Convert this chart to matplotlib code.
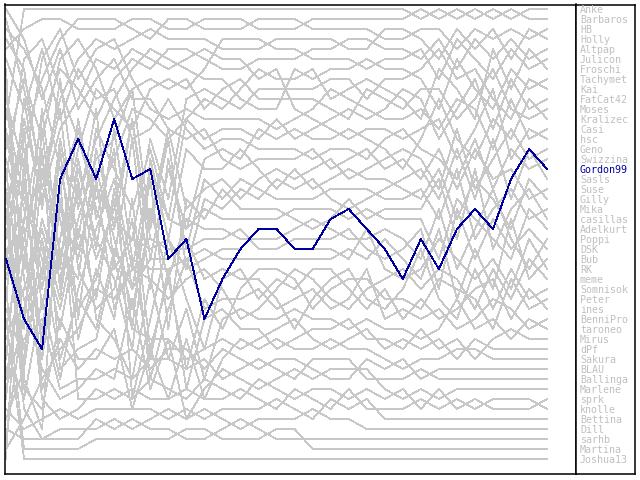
import matplotlib
matplotlib.use('Agg')
import matplotlib.pyplot as plt

# players in final table order (rank 1 first)
players = ['Anke', 'Barbaros', 'HB', 'Holly', 'Altpap', 'Julicon', 'Froschi',
           'Tachymet', 'Kai', 'FatCat42', 'Moses', 'Kralizec', 'Casi', 'hsc',
           'Geno', 'Swizzina', 'Gordon99', 'Sasls', 'Suse', 'Gilly', 'Mika',
           'casillas', 'Adelkurt', 'Poppi', 'DSK', 'Bub', 'RK', 'meme',
           'Somnisok', 'Peter', 'ines', 'BenniPro', 'taroneo', 'Mirus', 'dPf',
           'Sakura', 'BLAU', 'Ballinga', 'Marlene', 'sprk', 'knolle',
           'Bettina', 'Dill', 'sarhb', 'Martina', 'Joshua13']
highlight = 'Gordon99'

# rank of each player after each matchday
ranks = {
    'Anke':     [5, 3, 2, 2, 3, 3, 3, 2, 2, 3, 3, 2, 2, 2, 3, 3, 3, 2, 2, 2, 2, 2, 2, 1, 2, 1, 2, 1, 2, 1, 1],
    'Barbaros': [12, 1, 1, 1, 1, 1, 1, 1, 1, 1, 1, 1, 1, 1, 1, 1, 1, 1, 1, 1, 1, 1, 1, 2, 1, 2, 1, 2, 1, 2, 2],
    'HB':       [30, 14, 8, 4, 2, 2, 2, 3, 4, 2, 2, 3, 3, 3, 2, 2, 2, 3, 3, 3, 3, 4, 4, 3, 3, 5, 3, 4, 3, 4, 3],
    'Holly':    [2, 9, 18, 10, 6, 4, 5, 4, 3, 4, 4, 4, 5, 5, 5, 4, 4, 4, 4, 5, 5, 3, 3, 4, 6, 3, 5, 3, 6, 3, 4],
    'Altpap':   [40, 22, 12, 7, 9, 12, 8, 6, 7, 5, 5, 6, 7, 7, 6, 6, 6, 5, 5, 4, 4, 5, 5, 6, 4, 7, 4, 6, 4, 6, 5],
    'Julicon':  [8, 28, 36, 24, 15, 9, 11, 13, 9, 8, 9, 7, 4, 4, 4, 5, 5, 6, 6, 6, 7, 6, 6, 5, 8, 4, 6, 8, 5, 7, 6],
    'Froschi':  [18, 6, 4, 9, 14, 20, 16, 11, 12, 14, 12, 10, 11, 9, 7, 8, 8, 7, 10, 9, 8, 9, 10, 12, 7, 9, 12, 5, 9, 5, 7],
    'Tachymet': [25, 35, 27, 16, 20, 14, 10, 7, 5, 6, 7, 8, 8, 10, 11, 11, 7, 8, 7, 7, 6, 7, 7, 8, 11, 6, 9, 11, 7, 9, 8],
    'Kai':      [3, 5, 9, 17, 25, 19, 22, 24, 14, 20, 10, 9, 10, 11, 9, 9, 9, 9, 8, 8, 10, 8, 8, 7, 5, 8, 7, 10, 12, 8, 9],
    'FatCat42': [35, 40, 30, 38, 29, 23, 18, 27, 17, 22, 12, 14, 13, 13, 14, 12, 14, 13, 12, 11, 12, 11, 9, 10, 14, 11, 8, 13, 8, 11, 10],
    'Moses':    [15, 8, 14, 6, 4, 7, 12, 9, 8, 9, 8, 11, 9, 8, 10, 10, 10, 10, 11, 12, 9, 10, 11, 9, 9, 12, 10, 7, 11, 12, 11],
    'Kralizec': [44, 31, 22, 28, 19, 26, 21, 12, 26, 17, 23, 16, 15, 16, 13, 14, 13, 14, 14, 13, 14, 15, 17, 14, 10, 14, 16, 12, 14, 10, 12],
    'Casi':     [10, 17, 6, 3, 8, 5, 4, 8, 11, 12, 11, 12, 12, 12, 12, 13, 12, 11, 9, 10, 11, 12, 12, 11, 13, 10, 11, 15, 10, 14, 13],
    'hsc':      [22, 12, 20, 13, 10, 6, 7, 5, 6, 7, 6, 5, 6, 6, 8, 7, 11, 12, 13, 14, 13, 13, 14, 13, 12, 16, 13, 9, 16, 13, 14],
    'Geno':     [38, 26, 33, 21, 26, 17, 24, 31, 22, 13, 21, 19, 18, 20, 18, 17, 18, 17, 16, 18, 17, 16, 15, 16, 19, 13, 19, 16, 13, 16, 15],
    'Swizzina': [6, 11, 5, 12, 7, 10, 9, 14, 13, 10, 13, 15, 14, 14, 15, 15, 15, 16, 15, 15, 16, 14, 13, 15, 16, 18, 14, 19, 15, 17, 16],
    'Gordon99': [26, 32, 35, 18, 14, 18, 12, 18, 17, 26, 24, 32, 28, 25, 23, 23, 25, 25, 22, 21, 23, 25, 28, 24, 27, 23, 21, 23, 18, 15, 17],
    'Sasls':    [28, 19, 25, 31, 22, 16, 14, 9, 23, 14, 27, 20, 21, 19, 20, 18, 19, 18, 20, 21, 20, 19, 18, 17, 20, 15, 20, 14, 20, 15, 18],
    'Suse':     [1, 4, 10, 5, 11, 8, 6, 10, 10, 13, 14, 13, 16, 17, 16, 16, 16, 15, 17, 16, 15, 17, 16, 18, 15, 19, 15, 18, 17, 20, 19],
    'Gilly':    [33, 24, 16, 22, 31, 28, 20, 33, 16, 24, 15, 17, 17, 15, 17, 19, 17, 19, 18, 17, 18, 18, 19, 20, 17, 22, 18, 20, 23, 18, 20],
    'Mika':     [14, 21, 29, 19, 13, 21, 26, 14, 29, 16, 25, 18, 20, 18, 19, 20, 20, 20, 19, 19, 19, 20, 20, 19, 22, 17, 24, 21, 19, 22, 21],
    'casillas': [42, 37, 24, 33, 23, 30, 19, 29, 18, 33, 20, 22, 19, 21, 21, 21, 22, 23, 22, 20, 22, 21, 21, 21, 18, 24, 17, 25, 21, 19, 22],
    'Adelkurt': [20, 15, 28, 14, 24, 13, 17, 21, 15, 22, 23, 21, 22, 22, 22, 22, 21, 21, 21, 22, 21, 22, 22, 22, 26, 20, 22, 24, 26, 21, 23],
    'Poppi':    [9, 27, 11, 26, 17, 24, 28, 35, 21, 28, 22, 23, 23, 24, 24, 24, 23, 22, 23, 24, 24, 23, 24, 26, 21, 27, 23, 19, 24, 27, 24],
    'DSK':      [36, 18, 35, 25, 28, 15, 23, 12, 24, 25, 25, 24, 24, 23, 25, 25, 24, 24, 24, 23, 25, 26, 25, 23, 29, 21, 26, 22, 25, 23, 25],
    'Bub':      [17, 33, 13, 29, 16, 25, 13, 26, 27, 27, 26, 25, 26, 26, 26, 26, 26, 26, 26, 25, 26, 24, 26, 28, 23, 30, 25, 29, 22, 28, 26],
    'RK':       [27, 10, 21, 8, 21, 11, 27, 24, 25, 24, 27, 26, 25, 25, 23, 23, 25, 25, 25, 26, 23, 27, 28, 27, 24, 26, 28, 26, 29, 24, 27],
    'meme':     [45, 42, 38, 35, 33, 29, 30, 27, 28, 30, 28, 27, 29, 32, 31, 29, 27, 28, 30, 31, 29, 28, 27, 29, 27, 28, 31, 27, 30, 26, 28],
    'Somnisok': [11, 20, 26, 36, 30, 33, 25, 29, 26, 26, 24, 28, 27, 28, 28, 30, 33, 30, 28, 27, 30, 31, 29, 25, 30, 32, 27, 31, 27, 30, 29],
    'Peter':    [24, 13, 31, 20, 34, 27, 32, 20, 35, 28, 37, 30, 33, 29, 27, 27, 28, 31, 29, 28, 28, 30, 30, 31, 28, 29, 30, 33, 28, 31, 30],
    'ines':     [31, 36, 17, 27, 12, 22, 15, 40, 32, 24, 30, 35, 28, 27, 30, 28, 29, 27, 27, 29, 31, 29, 32, 30, 32, 31, 29, 28, 32, 29, 31],
    'BenniPro': [4, 7, 19, 11, 27, 31, 29, 22, 38, 31, 26, 31, 30, 30, 29, 31, 30, 29, 31, 30, 27, 32, 31, 32, 31, 33, 32, 30, 31, 33, 32],
    'taroneo':  [34, 29, 23, 30, 18, 32, 34, 38, 28, 36, 31, 38, 32, 31, 32, 32, 31, 32, 32, 33, 32, 33, 33, 34, 33, 30, 33, 32, 34, 32, 33],
    'Mirus':    [13, 25, 34, 15, 32, 18, 31, 26, 36, 27, 39, 32, 31, 33, 33, 35, 34, 33, 33, 32, 34, 34, 35, 33, 35, 34, 36, 34, 33, 34, 34],
    'dPf':      [39, 32, 15, 37, 35, 34, 26, 33, 34, 34, 36, 35, 34, 35, 34, 33, 32, 34, 35, 34, 33, 35, 34, 35, 34, 36, 34, 35, 35, 35, 35],
    'Sakura':   [19, 39, 41, 32, 36, 36, 33, 41, 35, 40, 34, 40, 36, 34, 35, 34, 35, 35, 34, 35, 35, 36, 37, 36, 36, 35, 35, 36, 36, 36, 36],
    'BLAU':     [46, 16, 39, 34, 37, 35, 36, 35, 37, 35, 35, 37, 35, 36, 37, 36, 36, 37, 38, 38, 36, 37, 36, 38, 37, 37, 37, 37, 37, 37, 37],
    'Ballinga': [37, 34, 32, 39, 38, 38, 37, 38, 36, 36, 37, 36, 38, 37, 36, 37, 38, 36, 36, 36, 38, 38, 38, 37, 38, 38, 38, 38, 38, 38, 38],
    'Marlene':  [23, 30, 37, 40, 39, 37, 38, 30, 39, 34, 42, 39, 37, 38, 39, 38, 37, 38, 37, 37, 37, 39, 40, 39, 40, 39, 39, 39, 39, 39, 39],
    'sprk':     [7, 38, 43, 18, 40, 40, 39, 40, 38, 39, 40, 38, 39, 40, 38, 39, 40, 39, 39, 40, 39, 40, 39, 41, 39, 41, 40, 41, 41, 41, 40],
    'knolle':   [16, 23, 40, 42, 41, 39, 40, 39, 40, 40, 39, 40, 40, 39, 40, 41, 39, 40, 41, 39, 41, 41, 41, 40, 41, 40, 41, 40, 40, 40, 41],
    'Bettina':  [41, 43, 42, 41, 42, 41, 41, 41, 41, 42, 41, 42, 41, 41, 41, 40, 41, 42, 40, 41, 40, 42, 42, 42, 42, 42, 42, 42, 42, 42, 42],
    'Dill':     [21, 41, 44, 43, 43, 43, 42, 43, 42, 41, 42, 41, 42, 43, 42, 42, 42, 41, 42, 42, 43, 43, 43, 43, 43, 43, 43, 43, 43, 43, 43],
    'sarhb':    [43, 44, 44, 44, 44, 42, 43, 42, 43, 43, 44, 44, 43, 42, 43, 44, 44, 44, 44, 44, 44, 44, 44, 44, 44, 44, 44, 44, 44, 44, 44],
    'Martina':  [29, 45, 45, 45, 45, 44, 44, 44, 44, 44, 43, 43, 44, 44, 44, 43, 43, 45, 45, 45, 45, 45, 45, 45, 45, 45, 45, 45, 45, 45, 45],
    'Joshua13': [32, 46, 46, 46, 46, 46, 46, 46, 46, 46, 46, 46, 46, 46, 46, 46, 46, 46, 46, 46, 46, 46, 46, 46, 46, 46, 46, 46, 46, 46, 46],
}
matchdays = list(range(len(ranks['Anke'])))

gray = '#c8c8c8'
blue = '#0000a0'

fig = plt.figure(figsize=(6.4, 4.8), dpi=100)
W, H = 640.0, 480.0

# main chart area (pixel box 5..576 x 4.5..474)
ax = fig.add_axes([5 / W, 1 - 474 / H, 571 / W, 469.5 / H])
for name in players:
    if name == highlight:
        continue
    ax.plot(matchdays, ranks[name], color=gray, lw=0.55, antialiased=False, zorder=1)
ax.plot(matchdays, ranks[highlight], color=blue, lw=0.6, antialiased=False, zorder=3)

ax.set_xlim(-0.055, 31.6)
ax.set_ylim(47.5, 0.55)
ax.set_xticks([])
ax.set_yticks([])
for sp in ax.spines.values():
    sp.set_linewidth(1.1)

# name list on the right
lax = fig.add_axes([576 / W, 1 - 474 / H, 59 / W, 469.5 / H])
lax.set_xlim(576, 635)
lax.set_ylim(474, 4.5)
lax.set_xticks([])
lax.set_yticks([])
for sp in lax.spines.values():
    sp.set_linewidth(1.1)
for i, name in enumerate(players):
    lax.text(580, 10 * (i + 1), name, fontsize=7.2, family='DejaVu Sans Mono',
             color=blue if name == highlight else '#c0c0c0', va='center', ha='left')

fig.savefig('out.png', dpi=100)
